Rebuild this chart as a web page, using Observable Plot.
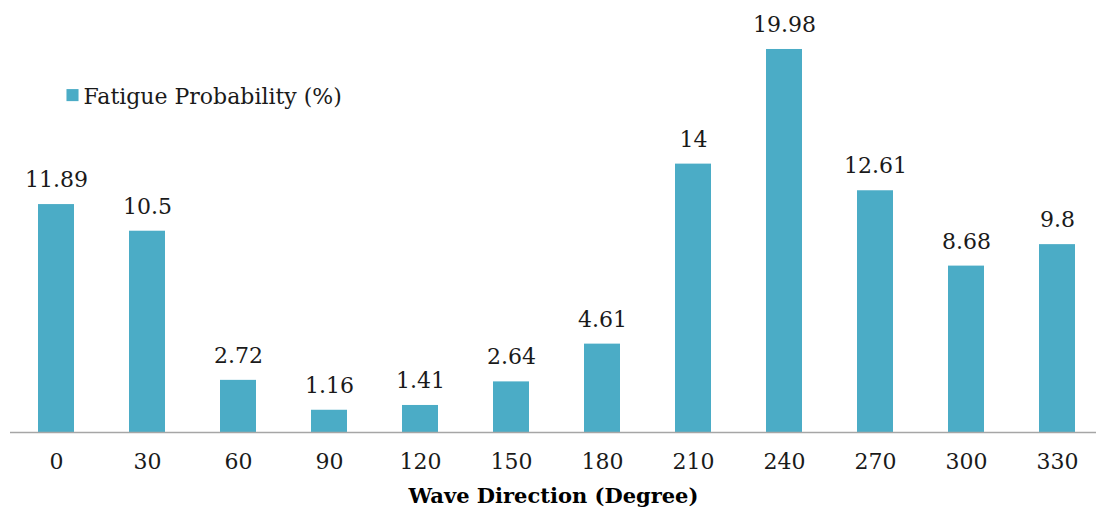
<!DOCTYPE html>
<html>
<head>
<meta charset="utf-8">
<script src="https://cdn.jsdelivr.net/npm/d3@7"></script>
<script src="https://cdn.jsdelivr.net/npm/@observablehq/plot@0.6"></script>
<style>
  html, body { margin: 0; padding: 0; background: #fff; }
  #chart svg { display: block; }
</style>
</head>
<body>
<div id="chart"></div>
<script>
const directions = ["0", "30", "60", "90", "120", "150", "180", "210", "240", "270", "300", "330"];
const probabilities = [11.89, 10.5, 2.72, 1.16, 1.41, 2.64, 4.61, 14, 19.98, 12.61, 8.68, 9.8];
const valueLabels = ["11.89", "10.5", "2.72", "1.16", "1.41", "2.64", "4.61", "14", "19.98", "12.61", "8.68", "9.8"];
const seriesName = "Fatigue Probability (%)";
const axisTitle = "Wave Direction (Degree)";

const data = directions.map((d, i) => ({dir: d, value: probabilities[i], label: valueLabels[i]}));
const barColor = "#4BACC6";
const font = "'DejaVu Serif', serif";

const chart = Plot.plot({
  width: 1096,
  height: 512,
  marginLeft: 10,
  marginRight: 0,
  marginTop: 48.6,
  marginBottom: 80,
  style: {fontFamily: font, fontSize: "22px", color: "#1a1a1a", background: "#fff"},
  x: {domain: directions, range: [9.4, 1103.6], paddingInner: 0.6, paddingOuter: 0.3, align: 0.5},
  y: {domain: [0, 20]},
  marks: [
    Plot.barY(data, {x: "dir", y: "value", fill: barColor}),
    Plot.ruleY([0], {stroke: "#a6a6a6", strokeWidth: 1.5}),
    Plot.text(data, {x: "dir", y: "value", text: "label", lineAnchor: "bottom", dy: -17.5, fontSize: 22, fill: "#1a1a1a"}),
    Plot.axisX({tickSize: 0, tickPadding: 21, label: null, fontSize: 22, fill: "#1a1a1a"}),
    Plot.axisY({ticks: [], label: null}),
    Plot.text([axisTitle], {frameAnchor: "bottom", dy: 70, fontWeight: "bold", fontSize: 21, fill: "#000"}),
    Plot.dot([seriesName], {frameAnchor: "top-left", dx: 62, dy: 46, symbol: "square", r: 6.8, fill: barColor}),
    Plot.text([seriesName], {frameAnchor: "top-left", dx: 73, dy: 39, textAnchor: "start", fontSize: 22, fill: "#1a1a1a"})
  ]
});
document.getElementById("chart").appendChild(chart);
</script>
</body>
</html>
